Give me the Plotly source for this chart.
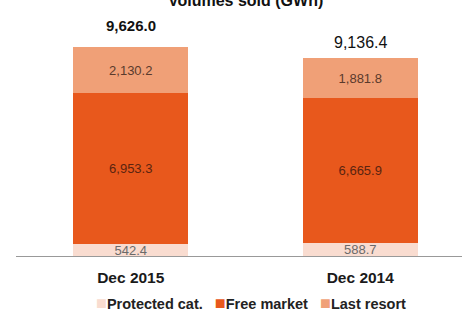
import plotly.graph_objects as go

categories = ["Dec 2015", "Dec 2014"]
protected = [542.4, 588.7]
free_market = [6953.3, 6665.9]
last_resort = [2130.2, 1881.8]
totals = [9626.0, 9136.4]
total_labels = ["9,626.0", "9,136.4"]

def fmt(v):
    return f"{v:,.1f}"

FONT = "Liberation Sans, Arial"
fig = go.Figure()
series = [
    ("Protected cat.", protected, "#f9dcd0", "#6a6a6a"),
    ("Free market", free_market, "#e8581c", "#5a2410"),
    ("Last resort", last_resort, "#f0a077", "#5a3a2c"),
]
for name, vals, col, tcol in series:
    fig.add_trace(go.Bar(
        x=categories, y=vals, name=name, marker=dict(color=col, line=dict(width=0)),
        width=0.5, text=[fmt(v) for v in vals], textposition="inside",
        insidetextanchor="middle", constraintext="none",
        textfont=dict(color=tcol, size=13, family=FONT),
        hoverinfo="skip", showlegend=False,
    ))

fig.add_annotation(x=categories[0], y=totals[0], text="<b>" + total_labels[0] + "</b>", showarrow=False,
                   yanchor="middle", yshift=22, font=dict(size=15, color="#111"))
fig.add_annotation(x=categories[1], y=totals[1], text=total_labels[1], showarrow=False,
                   yanchor="middle", yshift=15, font=dict(size=16, color="#111"))
fig.add_annotation(x=(245 - 16) / 446, xref="x domain", y=1.0, yref="paper",
                   text="<b>Volumes sold (GWh)</b>",
                   showarrow=False, yanchor="middle", xanchor="center", font=dict(size=16, color="#111"))

# legend drawn as text with coloured squares
parts = []
for name, vals, col, tcol in series:
    parts.append(f"<span style='color:{col};font-size:18px'>■</span>{name}")
legend_text = "<b>" + "&nbsp;&nbsp; ".join(parts) + "</b>"
fig.add_annotation(x=(251 - 16) / 446, xref="x domain", y=-47 / 256, yref="paper",
                   text=legend_text, showarrow=False, xanchor="center", yanchor="middle",
                   font=dict(size=14.5, color="#222", family=FONT))

fig.update_layout(
    barmode="stack", width=462, height=320,
    margin=dict(l=16, r=0, t=0, b=64),
    paper_bgcolor="white", plot_bgcolor="white",
    font=dict(family=FONT, color="#111"),
    showlegend=False,
    xaxis=dict(range=[-0.5, -0.5 + 446 / 229.5], showline=True, linecolor="#999",
               linewidth=1, tickfont=dict(size=15.5, color="#1a1a1a", weight="bold"),
               ticks="", showgrid=False, ticklabelstandoff=7),
    yaxis=dict(range=[0, 256 / (209 / 9626)], visible=False, showgrid=False),
)
fig.write_html("out.html")
